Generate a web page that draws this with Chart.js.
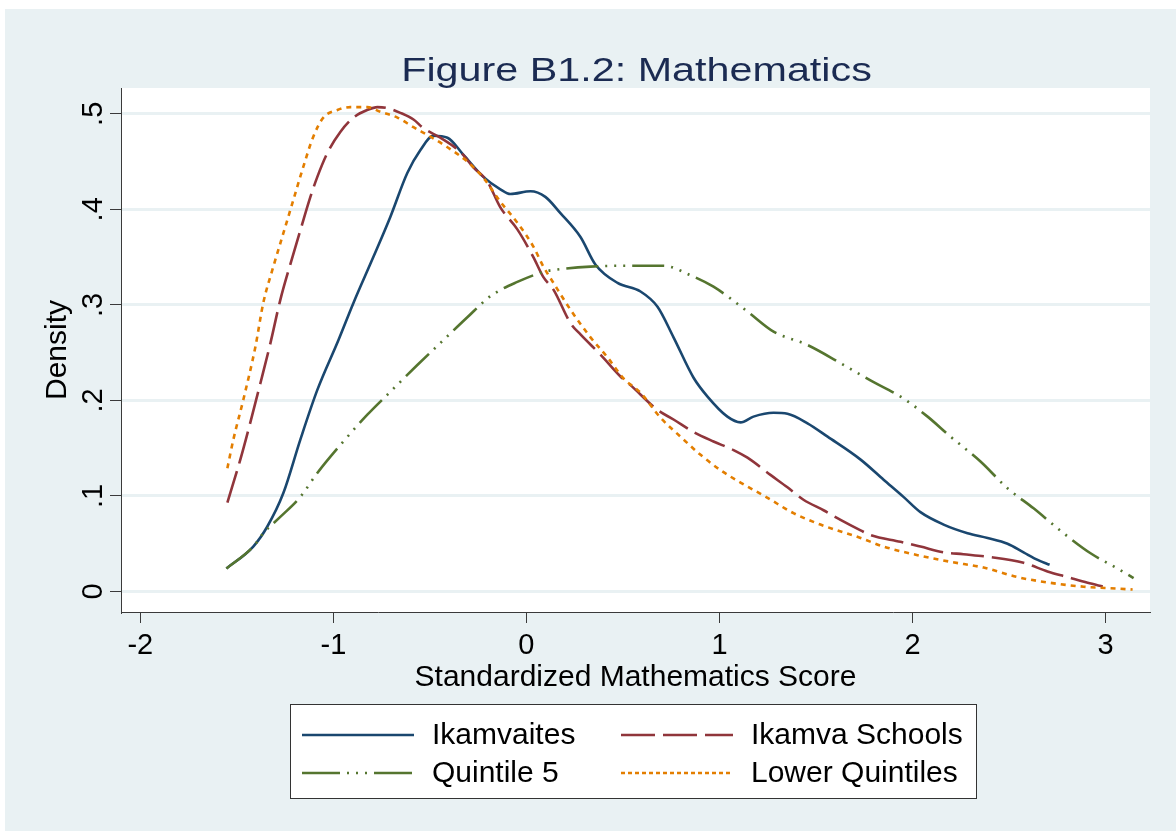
<!DOCTYPE html>
<html>
<head>
<meta charset="utf-8">
<script src="https://cdn.jsdelivr.net/npm/chart.js@4/dist/chart.umd.min.js"></script>
<style>
html,body{margin:0;padding:0;background:#fff;}
#wrap{width:1176px;height:831px;}
</style>
</head>
<body>
<div id="wrap"><canvas id="c" width="1176" height="831"></canvas></div>
<script>
// ---- Data ----
const chartTitle = 'Figure B1.2: Mathematics';
const xAxisTitle = 'Standardized Mathematics Score';
const yAxisTitle = 'Density';
const seriesNames = ['Ikamvaites', 'Ikamva Schools', 'Quintile 5', 'Lower Quintiles'];

const xTickValues = [-2, -1, 0, 1, 2, 3];
const xTickLabels = ['-2', '-1', '0', '1', '2', '3'];
const yTickValues = [0, 0.1, 0.2, 0.3, 0.4, 0.5];
const yTickLabels = ['0', '.1', '.2', '.3', '.4', '.5'];

const ikamvaitesX = [-1.554,-1.415,-1.342,-1.259,-1.171,-1.083,-0.974,-0.896,-0.793,-0.705,-0.617,-0.549,-0.482,-0.409,-0.326,-0.223,-0.135,-0.083,0.021,0.098,0.176,0.280,0.358,0.472,0.591,0.679,0.762,0.865,0.938,1.041,1.109,1.176,1.280,1.352,1.456,1.560,1.731,1.850,1.953,2.041,2.161,2.285,2.389,2.492,2.575,2.648,2.710];
const ikamvaitesY = [0.024,0.047,0.068,0.103,0.159,0.211,0.263,0.302,0.350,0.392,0.438,0.462,0.477,0.475,0.457,0.434,0.421,0.416,0.419,0.413,0.396,0.371,0.342,0.323,0.314,0.298,0.266,0.224,0.204,0.183,0.177,0.183,0.187,0.186,0.176,0.162,0.138,0.117,0.099,0.083,0.070,0.061,0.056,0.050,0.041,0.033,0.028];

const schoolsX = [-1.549,-1.482,-1.430,-1.378,-1.326,-1.275,-1.212,-1.171,-1.119,-1.083,-1.031,-0.964,-0.896,-0.824,-0.772,-0.720,-0.653,-0.585,-0.534,-0.446,-0.342,-0.275,-0.202,-0.135,-0.047,0.036,0.088,0.140,0.228,0.280,0.383,0.487,0.539,0.679,0.762,0.865,0.969,1.073,1.145,1.264,1.352,1.435,1.539,1.627,1.731,1.782,1.938,2.041,2.161,2.264,2.404,2.575,2.699,2.803,2.907,2.990];
const schoolsY = [0.093,0.138,0.177,0.218,0.260,0.305,0.350,0.378,0.413,0.434,0.459,0.481,0.496,0.504,0.507,0.506,0.501,0.494,0.485,0.475,0.460,0.444,0.429,0.402,0.379,0.350,0.329,0.316,0.281,0.269,0.248,0.225,0.216,0.190,0.180,0.167,0.157,0.148,0.140,0.122,0.109,0.096,0.085,0.075,0.064,0.059,0.052,0.047,0.041,0.039,0.036,0.030,0.021,0.015,0.009,0.005];

const quintile5X = [-1.554,-1.415,-1.363,-1.275,-1.171,-1.083,-0.948,-0.824,-0.705,-0.565,-0.446,-0.306,-0.187,-0.047,0.098,0.161,0.332,0.503,0.710,0.850,0.969,1.145,1.280,1.456,1.627,1.782,1.953,2.078,2.197,2.352,2.492,2.627,2.782,2.922,3.062,3.145];
const quintile5Y = [0.024,0.047,0.061,0.078,0.099,0.124,0.157,0.185,0.209,0.237,0.260,0.287,0.309,0.324,0.335,0.337,0.340,0.341,0.341,0.331,0.319,0.293,0.272,0.258,0.239,0.221,0.202,0.183,0.162,0.136,0.108,0.087,0.061,0.040,0.024,0.014];

const lowerX = [-1.549,-1.518,-1.466,-1.404,-1.363,-1.311,-1.259,-1.207,-1.155,-1.104,-1.052,-0.979,-0.912,-0.824,-0.756,-0.668,-0.585,-0.497,-0.409,-0.306,-0.223,-0.135,-0.047,0.036,0.088,0.140,0.228,0.332,0.420,0.503,0.591,0.694,0.798,0.902,1.005,1.109,1.249,1.383,1.523,1.731,1.850,2.026,2.197,2.368,2.544,2.715,2.886,3.062,3.140];
const lowerY = [0.129,0.159,0.201,0.256,0.302,0.340,0.375,0.410,0.445,0.476,0.496,0.504,0.507,0.507,0.502,0.496,0.486,0.476,0.465,0.450,0.433,0.408,0.386,0.361,0.340,0.323,0.295,0.266,0.245,0.223,0.208,0.182,0.162,0.143,0.127,0.114,0.098,0.082,0.070,0.056,0.047,0.038,0.031,0.025,0.015,0.009,0.005,0.003,0.002];

// ---- Styling ----
const FONT = '"Liberation Sans", Arial, Helvetica, sans-serif';
const PANEL = '#e9f1f3';
const AXIS = '#3a3a3a';

function pts(xs, ys) { return xs.map((x, i) => ({ x: x, y: ys[i] })); }

const bgPlugin = {
  id: 'panelBg',
  beforeDraw(chart) {
    const { ctx, chartArea: a } = chart;
    ctx.save();
    ctx.fillStyle = '#ffffff';
    ctx.fillRect(0, 0, chart.width, chart.height);
    ctx.fillStyle = PANEL;
    ctx.fillRect(5, 9, chart.width - 5, chart.height - 9);
    ctx.fillStyle = '#ffffff';
    ctx.fillRect(a.left, a.top, a.right - a.left, a.bottom - a.top);
    ctx.restore();
  }
};

const titleLegendPlugin = {
  id: 'titleLegend',
  afterDraw(chart) {
    const { ctx, chartArea: a } = chart;
    const cx = (a.left + a.right) / 2;
    ctx.save();
    // title (slightly wide lettering as in the reference)
    ctx.fillStyle = '#1b2b52';
    ctx.font = '34px ' + FONT;
    ctx.textAlign = 'center';
    ctx.textBaseline = 'alphabetic';
    ctx.translate(cx + 1, 81);
    ctx.scale(1.215, 1);
    ctx.fillText(chartTitle, 0, 0);
    ctx.restore();

    // legend box
    ctx.save();
    const W = 686, H = 94;
    const L = Math.round(cx - 345.5), T = a.bottom + 92;
    ctx.fillStyle = '#ffffff';
    ctx.fillRect(L, T, W, H);
    ctx.strokeStyle = '#333333';
    ctx.lineWidth = 1;
    ctx.strokeRect(L + 0.5, T + 0.5, W, H);
    const cols = [L + 12, L + 331];
    const rows = [T + 31, T + 69];
    ctx.font = '30px ' + FONT;
    ctx.textBaseline = 'middle';
    ctx.textAlign = 'left';
    chart.data.datasets.forEach((ds, i) => {
      const x0 = cols[i % 2], y = rows[Math.floor(i / 2)];
      ctx.strokeStyle = ds.borderColor;
      ctx.lineWidth = ds.borderWidth;
      ctx.setLineDash(ds.legendDash || []);
      ctx.beginPath();
      ctx.moveTo(x0, y);
      ctx.lineTo(x0 + 112, y);
      ctx.stroke();
      ctx.setLineDash([]);
      ctx.fillStyle = '#000000';
      ctx.fillText(ds.label, x0 + 130, y + 1);
    });
    ctx.restore();
  }
};

const common = { pointRadius: 0, pointHoverRadius: 0, borderWidth: 2.6, fill: false, cubicInterpolationMode: 'monotone' };

new Chart(document.getElementById('c'), {
  type: 'line',
  data: {
    datasets: [
      Object.assign({ label: seriesNames[0], data: pts(ikamvaitesX, ikamvaitesY), borderColor: '#1a476f', borderDash: [], legendDash: [], order: 4 }, common),
      Object.assign({ label: seriesNames[1], data: pts(schoolsX, schoolsY), borderColor: '#90353b', borderDash: [33, 8], legendDash: [34, 8], order: 3 }, common),
      Object.assign({ label: seriesNames[2], data: pts(quintile5X, quintile5Y), borderColor: '#55752f', borderDash: [32, 7, 2, 7, 2, 7, 2, 7], legendDash: [38, 7, 2, 7, 2, 7, 2, 7], order: 2 }, common),
      Object.assign({ label: seriesNames[3], data: pts(lowerX, lowerY), borderColor: '#e37e00', borderDash: [5, 5], legendDash: [4, 3], order: 1 }, common)
    ]
  },
  options: {
    responsive: false,
    animation: false,
    devicePixelRatio: 1,
    layout: { padding: { top: 88, left: 0, right: 26, bottom: 134 } },
    plugins: { legend: { display: false }, title: { display: false }, tooltip: { enabled: false } },
    scales: {
      x: {
        type: 'linear',
        min: -2.1, max: 3.23,
        afterFit(s) { s.height = 85; },
        ticks: {
          stepSize: 1, includeBounds: false, autoSkip: false, maxRotation: 0, minRotation: 0,
          padding: 6, color: '#000', font: { family: FONT, size: 29 },
          callback(v) { const i = xTickValues.indexOf(Math.round(v)); return i >= 0 ? xTickLabels[i] : ''; }
        },
        grid: { drawOnChartArea: false, drawTicks: true, tickLength: 11, tickColor: AXIS, tickWidth: 1, color: AXIS, lineWidth: 1 },
        border: { display: true, color: AXIS, width: 1 },
        title: { display: true, text: xAxisTitle, color: '#000', font: { family: FONT, size: 30 }, padding: { top: 0, bottom: 1 } }
      },
      y: {
        type: 'linear',
        min: -0.0215, max: 0.527,
        afterFit(s) { s.width = 121; },
        ticks: {
          stepSize: 0.1, includeBounds: false, autoSkip: false, minRotation: 90, maxRotation: 90, crossAlign: 'center',
          padding: 4, color: '#000', font: { family: FONT, size: 29 },
          callback(v) { const i = yTickValues.findIndex(t => Math.abs(t - v) < 1e-6); return i >= 0 ? yTickLabels[i] : ''; }
        },
        grid: { drawOnChartArea: true, drawTicks: true, tickLength: 11, tickColor: AXIS, tickWidth: 1, color: PANEL, lineWidth: 3 },
        border: { display: true, color: AXIS, width: 1 },
        title: { display: true, text: yAxisTitle, color: '#000', font: { family: FONT, size: 30 }, padding: { top: 40, bottom: 0 } }
      }
    }
  },
  plugins: [bgPlugin, titleLegendPlugin]
});
</script>
</body>
</html>
